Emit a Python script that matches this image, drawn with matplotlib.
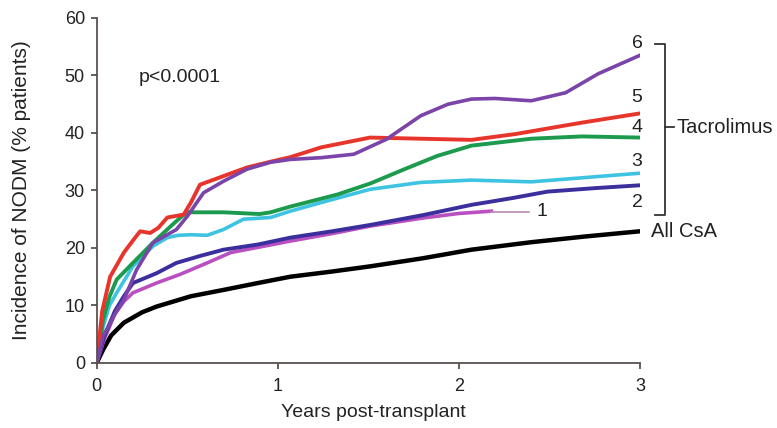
import numpy as np
import matplotlib
matplotlib.use("Agg")
import matplotlib.pyplot as plt

plt.rcParams['font.family'] = ['Liberation Sans', 'DejaVu Sans']

# Values (years, % patients)
csa_x = [0, 0.035, 0.08, 0.15, 0.25, 0.33, 0.52, 0.7, 0.89, 1.07, 1.3, 1.51, 1.8, 2.07, 2.4, 2.7, 3.0]
csa_y = [0, 2.3, 4.8, 7.0, 8.8, 9.8, 11.6, 12.7, 13.9, 15.0, 15.9, 16.8, 18.2, 19.7, 21.0, 22.0, 22.9]

t1_x = [0, 0.04, 0.1, 0.15, 0.2, 0.33, 0.46, 0.61, 0.74, 0.89, 1.07, 1.3, 1.51, 1.8, 2.0, 2.18]
t1_y = [0, 4.0, 8.5, 10.7, 12.2, 13.9, 15.4, 17.4, 19.2, 20.1, 21.2, 22.5, 23.8, 25.2, 26.0, 26.4]

t2_x = [0, 0.04, 0.1, 0.15, 0.2, 0.33, 0.44, 0.57, 0.7, 0.89, 1.07, 1.3, 1.51, 1.8, 2.07, 2.3, 2.49, 2.75, 3.0]
t2_y = [0, 4.5, 9.0, 11.6, 13.9, 15.6, 17.4, 18.6, 19.7, 20.6, 21.8, 22.9, 24.0, 25.7, 27.5, 28.7, 29.8, 30.4, 30.9]

t3_x = [0, 0.035, 0.07, 0.11, 0.2, 0.31, 0.39, 0.45, 0.52, 0.61, 0.7, 0.81, 0.96, 1.07, 1.24, 1.51, 1.79, 2.07, 2.4, 2.68, 3.0]
t3_y = [0, 6.3, 10.0, 12.2, 16.8, 20.3, 21.8, 22.2, 22.3, 22.2, 23.2, 25.0, 25.3, 26.4, 27.9, 30.2, 31.4, 31.8, 31.5, 32.2, 33.0]

t4_x = [0, 0.035, 0.07, 0.11, 0.2, 0.31, 0.42, 0.47, 0.5, 0.7, 0.9, 0.96, 1.07, 1.33, 1.51, 1.7, 1.88, 2.07, 2.4, 2.68, 3.0]
t4_y = [0, 7.5, 11.5, 14.5, 17.4, 20.9, 24.1, 25.5, 26.2, 26.2, 25.9, 26.2, 27.2, 29.3, 31.2, 33.7, 36.0, 37.8, 39.0, 39.4, 39.2]

t5_x = [0, 0.03, 0.074, 0.15, 0.2, 0.24, 0.295, 0.34, 0.39, 0.48, 0.52, 0.57, 0.7, 0.83, 0.96, 1.07, 1.24, 1.51, 1.79, 2.07, 2.31, 2.68, 3.0]
t5_y = [0, 9.0, 15.0, 19.2, 21.3, 22.9, 22.6, 23.5, 25.3, 25.8, 27.9, 31.0, 32.5, 34.0, 35.0, 35.8, 37.5, 39.2, 39.0, 38.8, 39.8, 41.8, 43.4]

t6_x = [0, 0.035, 0.1, 0.15, 0.22, 0.31, 0.44, 0.5, 0.59, 0.7, 0.83, 0.96, 1.07, 1.24, 1.42, 1.6, 1.79, 1.94, 2.07, 2.2, 2.4, 2.59, 2.77, 3.0]
t6_y = [0, 4.6, 8.5, 11.0, 16.2, 20.9, 23.2, 25.5, 29.6, 31.6, 33.7, 34.9, 35.4, 35.7, 36.3, 38.9, 43.0, 45.0, 45.9, 46.0, 45.6, 47.0, 50.3, 53.5]

group_labels = ['1', '2', '3', '4', '5', '6']
label_y = [26.3, 27.9, 35.1, 41.0, 46.2, 55.5]

txt = '#222222'
axc = '#5a5050'

fig = plt.figure(figsize=(7.77, 4.28), dpi=100)
ax = fig.add_axes([0.1245, 0.152, 0.699, 0.806])

ax.plot(csa_x, csa_y, color='black', lw=3.2, solid_capstyle='round')
ax.plot(t1_x, t1_y, color='#b94fc0', lw=2.6)
ax.plot(t2_x, t2_y, color='#3a2f9c', lw=2.8)
ax.plot(t3_x, t3_y, color='#3ec3e3', lw=2.6)
ax.plot(t4_x, t4_y, color='#1c9a4e', lw=2.8)
ax.plot(t5_x, t5_y, color='#e8352b', lw=2.8)
ax.plot(t6_x, t6_y, color='#7a44a8', lw=2.6)

ax.set_xlim(0, 3)
ax.set_ylim(0, 60)
ax.set_xticks([0, 1, 2, 3])
ax.set_yticks(range(0, 61, 10))

for s in ['top', 'right']:
    ax.spines[s].set_visible(False)
for s in ['left', 'bottom']:
    ax.spines[s].set_color(axc)
    ax.spines[s].set_linewidth(1.3)
ax.tick_params(direction='out', length=4.5, width=1.3, color=axc,
               labelsize=13, labelcolor=txt)
ax.tick_params(axis='x', pad=6)
ax.tick_params(axis='y', pad=4)

ax.set_xlabel('Years post-transplant', fontsize=14, color=txt)
ax.xaxis.label.set_va('center')
ax.xaxis.set_label_coords(0.509, -0.145)
ax.set_ylabel('Incidence of NODM (% patients)', fontsize=15, color=txt)
ax.yaxis.label.set_va('center')
ax.yaxis.set_label_coords(-0.139, 0.5)

ax.text(0.23, 49.6, 'p<0.0001', fontsize=14, color=txt, va='center')

# curve numbers
ax.plot([t1_x[-1], 2.39], [label_y[0], label_y[0]], color='#b98ab8', lw=1.2)
ax.text(2.46, label_y[0], group_labels[0], fontsize=14, ha='center', va='center',
        color=txt)
for lab, yy in zip(group_labels[1:], label_y[1:]):
    ax.text(2.985, yy, lab, fontsize=14, ha='center', va='center', color=txt,
            clip_on=False)

ax.text(3.06, 22.9, 'All CsA', fontsize=14.5, ha='left', va='center', color=txt,
        clip_on=False)

# bracket for Tacrolimus
bx = [3.083, 3.138, 3.138, 3.083]
by = [label_y[5], label_y[5], 25.8, 25.8]
ax.plot(bx, by, color='#333333', lw=1.3, clip_on=False)
ax.plot([3.138, 3.19], [41.0, 41.0], color='#333333', lw=1.3, clip_on=False)
ax.text(3.2, 41.0, 'Tacrolimus', fontsize=14.5, ha='left', va='center', color=txt,
        clip_on=False)

fig.savefig('out.png', dpi=100)
